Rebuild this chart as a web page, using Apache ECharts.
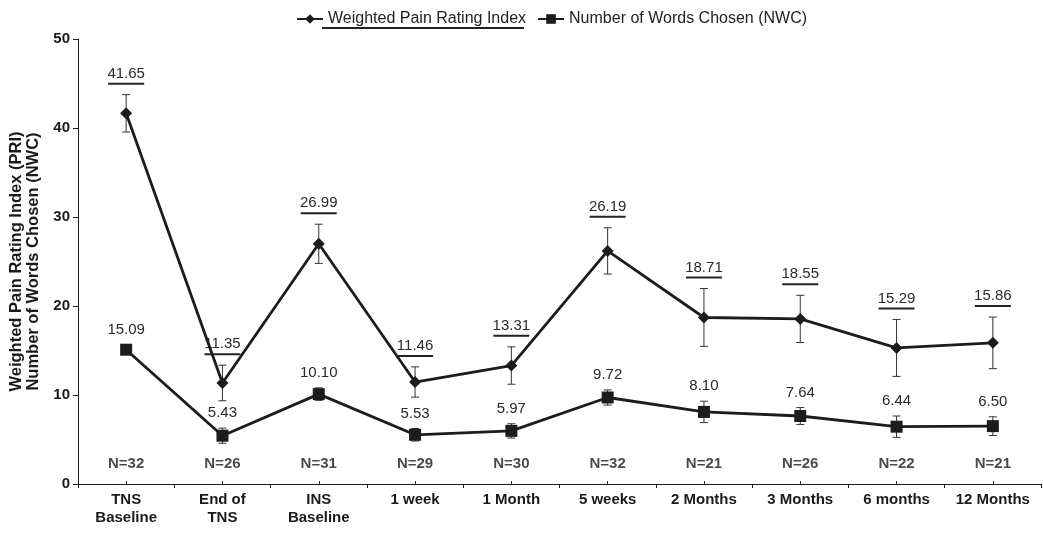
<!DOCTYPE html>
<html>
<head>
<meta charset="utf-8">
<script src="https://cdn.jsdelivr.net/npm/echarts@6/dist/echarts.min.js"></script>
<style>
  html, body { margin: 0; padding: 0; background: #fff; }
  #chart { width: 1043px; height: 533px; }
</style>
</head>
<body>
<div id="chart"></div>
<script>
// Time points of the follow-up
const categories = ['TNS\nBaseline', 'End of\nTNS', 'INS\nBaseline', '1 week', '1 Month',
                    '5 weeks', '2 Months', '3 Months', '6 months', '12 Months'];
// Number of subjects at each time point
const sampleSizes = [32, 26, 31, 29, 30, 32, 21, 26, 22, 21];
// Weighted Pain Rating Index (mean, standard error)
const priValues = [41.65, 11.35, 26.99, 11.46, 13.31, 26.19, 18.71, 18.55, 15.29, 15.86];
const priErrors = [2.1, 2.0, 2.2, 1.7, 2.1, 2.6, 3.25, 2.65, 3.2, 2.9];
// Number of Words Chosen (mean, standard error)
const nwcValues = [15.09, 5.43, 10.10, 5.53, 5.97, 9.72, 8.10, 7.64, 6.44, 6.50];
const nwcErrors = [0.5, 0.85, 0.7, 0.7, 0.8, 0.85, 1.2, 0.95, 1.2, 1.05];
// Value axis ticks
const yTicks = [0, 10, 20, 30, 40, 50];

const PRI_NAME = 'Weighted Pain Rating Index';
const NWC_NAME = 'Number of Words Chosen (NWC)';
const FONT = '"Liberation Sans", Arial, sans-serif';
const INK = '#1c1c1c';

// Error bars with caps, plus the mean value written above the upper cap
function errorBars(name, values, errors, underlined) {
  return {
    type: 'custom',
    name: name + ' SE',
    silent: true,
    z: 3,
    data: values.map((v, i) => [i, v - errors[i], v + errors[i], v]),
    encode: { x: 0, y: [1, 2] },
    renderItem(params, api) {
      const lowPt = api.coord([api.value(0), api.value(1)]);
      const highPt = api.coord([api.value(0), api.value(2)]);
      const x = lowPt[0], lo = lowPt[1], hi = highPt[1];
      const cap = 4;
      const st = { stroke: '#333', lineWidth: 1 };
      const text = api.value(3).toFixed(2);
      const children = [
        { type: 'line', shape: { x1: x, y1: lo, x2: x, y2: hi }, style: st },
        { type: 'line', shape: { x1: x - cap, y1: hi, x2: x + cap, y2: hi }, style: st },
        { type: 'line', shape: { x1: x - cap, y1: lo, x2: x + cap, y2: lo }, style: st }
      ];
      if (underlined) {
        children.push({ type: 'text', style: { text, x, y: hi - 21, align: 'center', verticalAlign: 'middle',
          font: '15px ' + FONT, fill: '#2a2a2a' } });
        children.push({ type: 'rect', shape: { x: x - 18, y: hi - 12, width: 36, height: 2 },
          style: { fill: '#222' } });
      } else {
        children.push({ type: 'text', style: { text, x, y: hi - 15, align: 'center', verticalAlign: 'middle',
          font: '15px ' + FONT, fill: '#2a2a2a' } });
      }
      return { type: 'group', children };
    }
  };
}

const chart = echarts.init(document.getElementById('chart'));
chart.setOption({
  animation: false,
  backgroundColor: '#fff',
  grid: { left: 78, right: 2, top: 39, bottom: 49, outerBoundsMode: 'none', containLabel: false },
  legend: {
    data: [PRI_NAME, NWC_NAME],
    left: 296,
    top: 11,
    padding: 0,
    itemWidth: 26,
    itemHeight: 12,
    itemGap: 11,
    textStyle: { fontFamily: FONT, fontSize: 16, color: '#222' }
  },
  graphic: [
    { type: 'rect', left: 322, top: 27, shape: { width: 202, height: 2 }, style: { fill: '#222' } }
  ],
  xAxis: [
    {
      type: 'category',
      data: categories,
      boundaryGap: true,
      axisLine: { lineStyle: { color: INK, width: 1 } },
      axisTick: { show: true, length: 4, lineStyle: { color: INK } },
      axisLabel: { interval: 0, margin: 7, fontFamily: FONT, fontSize: 15, fontWeight: 'bold', color: '#1a1a1a', lineHeight: 18 }
    },
    {
      type: 'category',
      data: categories,
      position: 'bottom',
      boundaryGap: true,
      axisLine: { show: false },
      axisTick: { show: true, alignWithLabel: true, inside: true, length: 3, lineStyle: { color: INK } },
      axisLabel: { show: false }
    }
  ],
  yAxis: {
    type: 'value',
    min: yTicks[0],
    max: yTicks[yTicks.length - 1],
    interval: yTicks[1] - yTicks[0],
    name: 'Weighted Pain Rating Index (PRI)\nNumber of Words Chosen (NWC)',
    nameLocation: 'middle',
    nameGap: 33,
    nameTextStyle: { fontFamily: FONT, fontSize: 16.5, fontWeight: 'bold', color: '#1a1a1a', lineHeight: 17 },
    axisLine: { show: true, lineStyle: { color: INK, width: 1 } },
    axisTick: { show: true, length: 5, lineStyle: { color: INK } },
    splitLine: { show: false },
    axisLabel: { margin: 8, fontFamily: FONT, fontSize: 15, fontWeight: 'bold', color: '#1a1a1a' }
  },
  series: [
    errorBars(PRI_NAME, priValues, priErrors, true),
    errorBars(NWC_NAME, nwcValues, nwcErrors, false),
    {
      name: PRI_NAME,
      type: 'line',
      data: priValues,
      z: 4,
      symbol: 'diamond',
      symbolSize: 12,
      itemStyle: { color: INK },
      lineStyle: { color: INK, width: 2.8 }
    },
    {
      name: NWC_NAME,
      type: 'line',
      data: nwcValues,
      z: 4,
      symbol: 'rect',
      symbolSize: 12,
      itemStyle: { color: INK },
      lineStyle: { color: INK, width: 2.8 }
    },
    {
      name: 'N',
      type: 'scatter',
      data: sampleSizes.map((n, i) => [i, 0]),
      symbolSize: 0,
      silent: true,
      label: {
        show: true,
        position: 'top',
        distance: 13,
        formatter: p => 'N=' + sampleSizes[p.dataIndex],
        fontFamily: FONT, fontSize: 15, fontWeight: 'bold', color: '#1a1a1a'
      }
    }
  ]
});
</script>
</body>
</html>
